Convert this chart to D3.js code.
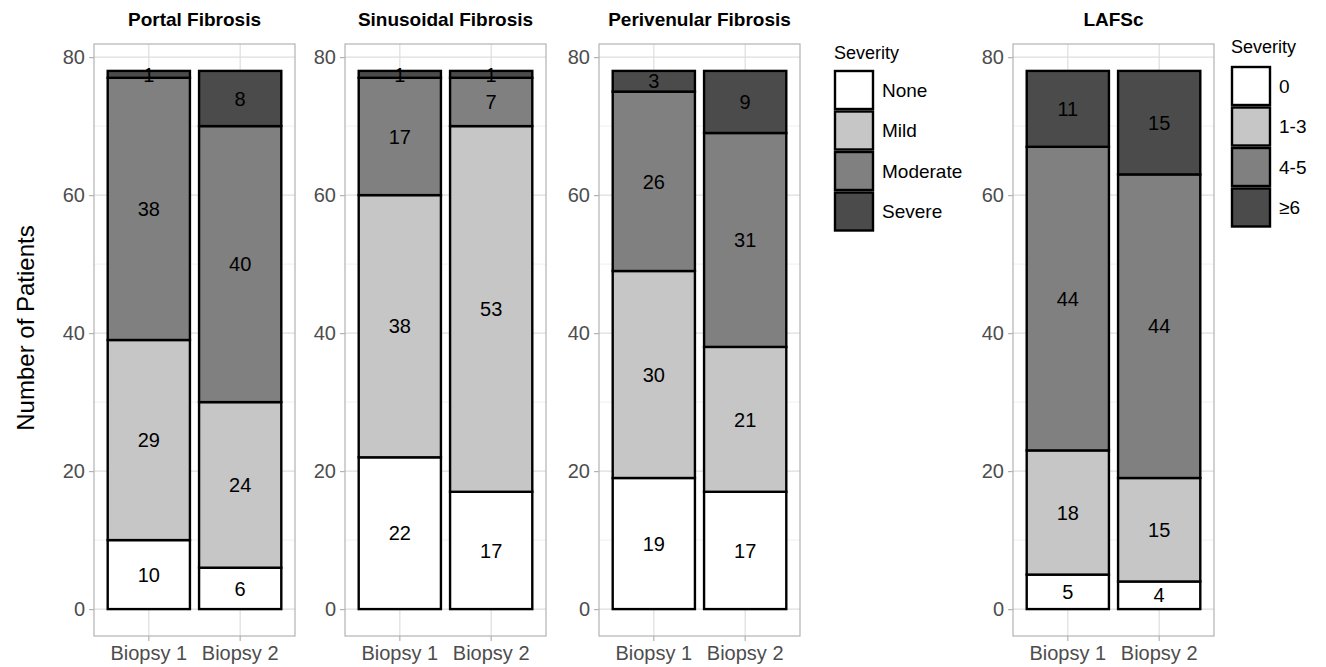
<!DOCTYPE html>
<html>
<head>
<meta charset="utf-8">
<script src="https://cdn.jsdelivr.net/npm/d3@7"></script>
<style>
  body { margin: 0; background: #fff; }
  svg { font-family: "Liberation Sans", Arial, Helvetica, sans-serif; }
</style>
</head>
<body>
<svg id="chart" width="1326" height="667"></svg>
<script>
// Fibrosis severity counts per biopsy (stack order bottom to top)
const biopsies = ["Biopsy 1", "Biopsy 2"];
const fibrosisLevels = ["None", "Mild", "Moderate", "Severe"];
const lafscLevels = ["0", "1-3", "4-5", "≥6"];
const panelTitles = ["Portal Fibrosis", "Sinusoidal Fibrosis", "Perivenular Fibrosis", "LAFSc"];

const portal      = [[10, 29, 38, 1], [6, 24, 40, 8]];
const sinusoidal  = [[22, 38, 17, 1], [17, 53, 7, 1]];
const perivenular = [[19, 30, 26, 3], [17, 21, 31, 9]];
const lafsc       = [[5, 18, 44, 11], [4, 15, 44, 15]];

const yTicks = [0, 20, 40, 60, 80];
const yMinor = [10, 30, 50, 70];
const fills = ["#ffffff", "#c6c6c6", "#808080", "#4b4b4b"];

const panels = [
  { title: panelTitles[0], data: portal,      x0: 94 },
  { title: panelTitles[1], data: sinusoidal,  x0: 345 },
  { title: panelTitles[2], data: perivenular, x0: 599 },
  { title: panelTitles[3], data: lafsc,       x0: 1013 }
];

const svg = d3.select("#chart");
const panelW = 201, panelTop = 44, panelBottom = 636;
const maxTotal = 78;
const y = d3.scaleLinear()
  .domain([-0.05 * maxTotal, maxTotal * 1.05])
  .range([panelBottom, panelTop]);

panels.forEach(p => {
  const g = svg.append("g").attr("transform", `translate(${p.x0},0)`);
  const x = d3.scaleBand().domain(biopsies).range([0, panelW])
    .paddingInner(0.1).paddingOuter(0.15);
  // grid
  g.selectAll(".minor").data(yMinor).join("line")
    .attr("x1", 0).attr("x2", panelW)
    .attr("y1", d => y(d)).attr("y2", d => y(d))
    .attr("stroke", "#ececec").attr("stroke-width", 0.8);
  g.selectAll(".major").data(yTicks).join("line")
    .attr("x1", 0).attr("x2", panelW)
    .attr("y1", d => y(d)).attr("y2", d => y(d))
    .attr("stroke", "#dedede").attr("stroke-width", 1.2);
  g.selectAll(".vmajor").data(biopsies).join("line")
    .attr("x1", d => x(d) + x.bandwidth() / 2).attr("x2", d => x(d) + x.bandwidth() / 2)
    .attr("y1", panelTop).attr("y2", panelBottom)
    .attr("stroke", "#dedede").attr("stroke-width", 1.2);

  // stacked bars
  p.data.forEach((vals, bi) => {
    let cum = 0;
    vals.forEach((v, li) => {
      const lo = cum, hi = cum + v;
      cum = hi;
      g.append("rect")
        .attr("x", x(biopsies[bi]))
        .attr("width", x.bandwidth())
        .attr("y", y(hi))
        .attr("height", y(lo) - y(hi))
        .attr("fill", fills[li])
        .attr("stroke", "#000")
        .attr("stroke-width", 2.4);
    });
    cum = 0;
    vals.forEach((v, li) => {
      const mid = cum + v / 2;
      cum += v;
      g.append("text")
        .attr("x", x(biopsies[bi]) + x.bandwidth() / 2)
        .attr("y", y(mid))
        .attr("dy", "0.36em")
        .attr("text-anchor", "middle")
        .attr("font-size", 20)
        .attr("fill", "#000")
        .text(v);
    });
  });

  // panel border
  g.append("rect").attr("x", 0).attr("y", panelTop)
    .attr("width", panelW).attr("height", panelBottom - panelTop)
    .attr("fill", "none").attr("stroke", "#b3b3b3").attr("stroke-width", 1.2);

  // axes
  const ya = g.append("g").call(d3.axisLeft(y).tickValues(yTicks).tickSize(5).tickPadding(4));
  ya.select(".domain").remove();
  ya.selectAll("line").attr("stroke", "#b3b3b3").attr("stroke-width", 1.2);
  ya.selectAll("text").attr("font-size", 20).attr("fill", "#4d4d4d")
    .attr("font-family", "Liberation Sans, Arial, sans-serif");

  const xa = g.append("g").attr("transform", `translate(0,${panelBottom})`)
    .call(d3.axisBottom(x).tickSize(5).tickPadding(5));
  xa.select(".domain").remove();
  xa.selectAll("line").attr("stroke", "#b3b3b3").attr("stroke-width", 1.2);
  xa.selectAll("text").attr("font-size", 20).attr("fill", "#4d4d4d")
    .attr("font-family", "Liberation Sans, Arial, sans-serif");

  // title
  g.append("text").attr("x", panelW / 2).attr("y", 26)
    .attr("text-anchor", "middle").attr("font-size", 19).attr("font-weight", "bold")
    .attr("fill", "#000").text(p.title);
});

// y-axis title
svg.append("text")
  .attr("transform", "translate(34,328) rotate(-90)")
  .attr("text-anchor", "middle").attr("font-size", 24).attr("fill", "#000")
  .text("Number of Patients");

// legends
function legend(x0, yTitle, yKey0, labels) {
  const lg = svg.append("g");
  lg.append("text").attr("x", x0).attr("y", yTitle).attr("font-size", 18)
    .attr("fill", "#000").text("Severity");
  labels.forEach((lab, i) => {
    const yk = yKey0 + i * 40.5;
    lg.append("rect").attr("x", x0 + 1).attr("y", yk + 1)
      .attr("width", 38).attr("height", 38)
      .attr("fill", fills[i]).attr("stroke", "#000").attr("stroke-width", 2.4);
    lg.append("text").attr("x", x0 + 48).attr("y", yk + 20).attr("dy", "0.36em")
      .attr("font-size", 19).attr("fill", "#000").text(lab);
  });
}
legend(834, 59, 70, fibrosisLevels);
legend(1231, 53, 66, lafscLevels);
</script>
</body>
</html>
